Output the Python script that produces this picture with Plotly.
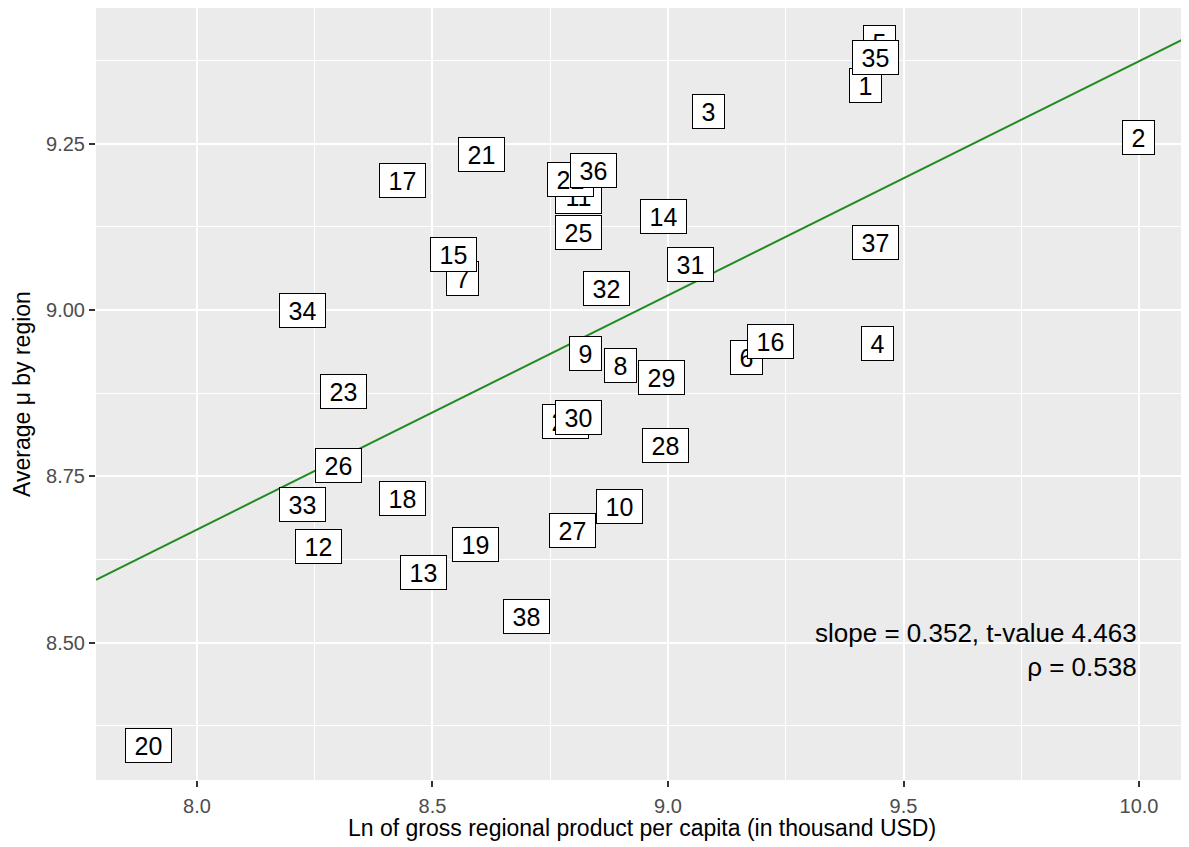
import plotly.graph_objects as go

# region id, ln GRP per capita, average mu
region_ids = [1, 2, 3, 4, 5, 6, 7, 8, 9, 10,
              11, 12, 13, 14, 15, 16, 17, 18, 19, 20,
              21, 22, 23, 24, 25, 26, 27, 28, 29, 30,
              31, 32, 33, 34, 35, 36, 37, 38]
ln_grp = [9.420, 9.998, 9.087, 9.444, 9.448, 9.166, 8.563, 8.900, 8.825, 8.898,
          8.811, 8.257, 8.480, 8.990, 8.544, 9.217, 8.437, 8.437, 8.592, 7.896,
          8.603, 8.794, 8.310, 8.783, 8.811, 8.301, 8.798, 8.994, 8.987, 8.811,
          9.047, 8.870, 8.223, 8.223, 9.440, 8.842, 9.440, 8.699]
avg_mu = [9.337, 9.259, 9.298, 8.949, 9.402, 8.929, 9.048, 8.916, 8.935, 8.704,
          9.171, 8.645, 8.605, 9.141, 9.084, 8.952, 9.195, 8.717, 8.648, 8.346,
          9.233, 9.196, 8.878, 8.832, 9.117, 8.766, 8.668, 8.797, 8.899, 8.838,
          9.068, 9.033, 8.707, 9.000, 9.379, 9.210, 9.102, 8.539]

fit_slope = 0.352
fit_intercept = 5.854
t_value = 4.463
rho = 0.538

x_range = [7.7856, 10.1019]
y_range = [8.2936, 9.4539]
x_ticks = [8.0, 8.5, 9.0, 9.5, 10.0]
x_ticklabels = ["8.0", "8.5", "9.0", "9.5", "10.0"]
y_ticks = [8.50, 8.75, 9.00, 9.25]
y_ticklabels = ["8.50", "8.75", "9.00", "9.25"]
x_title = "Ln of gross regional product per capita (in thousand USD)"
y_title = "Average \u03bc by region"

FONT = "Liberation Sans, Arial, Helvetica, sans-serif"

fig = go.Figure()

# regression line across the full panel
line_x = list(x_range)
line_y = [fit_intercept + fit_slope * v for v in line_x]
fig.add_trace(go.Scatter(x=line_x, y=line_y, mode="lines",
                         line=dict(color="#228B22", width=2),
                         hoverinfo="skip", showlegend=False))

# invisible points (for hover)
fig.add_trace(go.Scatter(x=ln_grp, y=avg_mu, mode="markers",
                         marker=dict(size=1, opacity=0),
                         text=[str(r) for r in region_ids],
                         showlegend=False))

for rid, xv, yv in zip(region_ids, ln_grp, avg_mu):
    s = str(rid)
    fig.add_annotation(x=xv, y=yv, xref="x", yref="y", text=s, showarrow=False,
                       font=dict(family=FONT, size=25, color="black"),
                       bgcolor="white", bordercolor="black", borderwidth=1,
                       borderpad=2, width=27 if len(s) == 1 else 41, height=29,
                       align="center", valign="middle")

fig.add_annotation(x=10.0, y=8.489, xref="x", yref="y",
                   text=f"slope = {fit_slope:.3f}, t-value {t_value:.3f}<br>\u03c1 = {rho:.3f}",
                   showarrow=False, xanchor="right", yanchor="middle", align="right",
                   font=dict(family=FONT, size=26, color="black"))

# axis titles
fig.add_annotation(x=0.5, y=0, xref="paper", yref="paper", text=x_title,
                   showarrow=False, xanchor="center", yanchor="middle", yshift=-48,
                   font=dict(family=FONT, size=23, color="black"))
fig.add_annotation(x=0, y=0.5, xref="paper", yref="paper", text=y_title,
                   showarrow=False, xanchor="center", yanchor="middle", xshift=-74,
                   textangle=-90, font=dict(family=FONT, size=23, color="black"))

axis_common = dict(showgrid=True, gridcolor="white", gridwidth=1.8,
                   zeroline=False, showline=False, automargin=False,
                   ticks="outside", ticklen=6, tickwidth=1.5, tickcolor="#333333",
                   tickfont=dict(family=FONT, size=20, color="#4D4D4D"))

# the page body adds an 8px offset, so the figure is 8px smaller
fig.update_layout(
    width=1181, height=839,
    margin=dict(l=88, r=2, t=0, b=67),
    paper_bgcolor="white", plot_bgcolor="#EBEBEB",
    font=dict(family=FONT),
    xaxis=dict(range=x_range, tickvals=x_ticks, ticktext=x_ticklabels,
               ticklabelstandoff=2,
               minor=dict(dtick=0.25, tick0=8.0, showgrid=True, gridcolor="white",
                          gridwidth=0.9, ticks=""),
               **axis_common),
    yaxis=dict(range=y_range, tickvals=y_ticks, ticktext=y_ticklabels,
               minor=dict(dtick=0.125, tick0=8.375, showgrid=True, gridcolor="white",
                          gridwidth=0.9, ticks=""),
               **axis_common),
)

fig.write_html("out.html")
